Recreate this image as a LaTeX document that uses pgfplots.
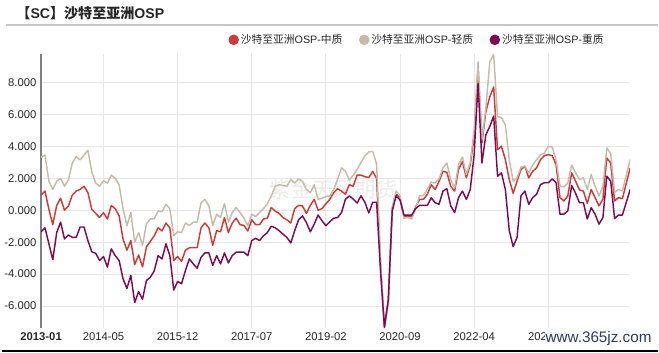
\documentclass[border=0pt]{standalone}
\usepackage{fontspec}
\setmainfont{Liberation Sans}
\newfontfamily\cjk{Noto Sans CJK SC}
\usepackage{pgfplots}
\pgfplotsset{compat=1.18}
\usepackage{pgfplotstable}
\definecolor{cred}{RGB}{206,59,55}
\definecolor{cbeige}{RGB}{200,186,168}
\definecolor{cpurple}{RGB}{125,10,85}
\definecolor{csite}{RGB}{45,60,100}
\pgfplotstableread{
i mid light heavy
0 0.95 3.33 -1.35
1 1.2 3.45 -1.1
2 0.06 1.82 -2.1
3 -0.9 1.3 -3.1
4 0.3 1.82 -1.4
5 0.75 2.0 -0.75
6 0.0 1.5 -1.8
7 0.25 1.9 -1.55
8 0.95 2.95 -1.7
9 1.2 3.35 -1.7
10 1.3 3.15 -1.05
11 1.5 3.45 -1.05
12 1.1 3.75 -1.9
13 0.05 2.4 -2.6
14 -0.2 1.7 -2.7
15 -0.45 1.5 -3.15
16 -0.15 1.85 -2.9
17 -0.55 1.7 -3.56
18 0.3 2.2 -2.42
19 0.1 2.0 -2.84
20 -0.35 1.6 -3.15
21 -1.8 0.1 -4.29
22 -2.5 -0.97 -4.9
23 -1.9 -0.14 -4.08
24 -3.4 -2.0 -5.78
25 -2.8 -1.4 -5.1
26 -3.55 -2.2 -5.57
27 -2.3 -0.85 -4.4
28 -1.95 -0.54 -4.2
29 -1.6 -0.54 -3.8
30 -1.1 -0.04 -2.84
31 -1.3 -0.1 -3.05
32 -0.8 0.37 -2.1
33 -1.1 0.1 -2.84
34 -3.15 -1.6 -5.0
35 -2.9 -1.35 -4.46
36 -3.2 -1.4 -4.6
37 -2.5 -0.8 -3.77
38 -2.35 -0.95 -3.05
39 -2.35 -0.75 -3.36
40 -2.35 -0.75 -3.63
41 -1.1 0.47 -2.95
42 -0.8 0.68 -2.67
43 -1.1 0.27 -2.67
44 -2.2 -0.95 -3.46
45 -1.28 -0.25 -2.84
46 -1.35 -0.46 -3.36
47 -0.46 0.43 -2.67
48 -1.4 -0.75 -3.3
49 -0.8 -0.14 -2.84
50 -0.5 0.17 -2.63
51 -0.9 -0.14 -2.63
52 -0.95 -0.5 -2.63
53 -1.3 -0.97 -2.84
54 -0.6 -0.25 -1.9
55 -0.9 -0.4 -1.76
56 -0.9 -0.15 -1.9
57 -0.55 0.1 -1.6
58 -0.5 0.4 -1.4
59 0.17 0.89 -1.0
60 -0.05 1.5 -1.1
61 -0.2 1.6 -1.28
62 -0.46 1.55 -1.5
63 -0.6 1.5 -1.7
64 -0.8 1.93 -2.05
65 0.1 1.7 -1.28
66 0.3 1.96 -0.6
67 0.27 1.8 -0.35
68 -0.2 1.3 -0.77
69 0.3 1.1 -1.35
70 0.68 1.6 -0.87
71 0.0 0.68 -0.3
72 0.1 0.75 -0.66
73 0.4 0.85 -0.97
74 0.68 0.89 -0.72
75 1.1 1.3 -0.5
76 1.35 1.93 -0.46
77 1.2 2.65 -0.15
78 1.0 2.44 0.68
79 1.6 1.9 0.89
80 1.5 2.2 0.7
81 2.2 2.55 0.45
82 2.2 3.0 0.9
83 2.1 3.4 0.5
84 2.05 3.65 -0.17
85 2.43 3.68 0.5
86 2.0 2.9 0.5
87 -3.4 -3.1 -3.8
88 -7.3 -7.3 -7.35
89 -5.6 -5.9 -5.6
90 0.1 0.2 -0.05
91 1.0 1.2 0.9
92 0.8 0.9 0.64
93 -0.4 -0.5 -0.3
94 -0.4 -0.45 -0.3
95 -0.4 -0.55 -0.3
96 0.2 0.1 0.1
97 0.68 0.9 0.3
98 0.68 0.93 0.3
99 1.0 1.3 0.3
100 1.6 1.76 0.78
101 1.3 1.7 0.47
102 1.8 1.97 0.37
103 2.44 2.65 1.2
104 2.38 2.96 1.35
105 1.5 1.9 0.27
106 1.2 1.4 -0.15
107 2.55 2.86 0.79
108 3.06 3.33 1.2
109 2.03 2.24 0.68
110 2.86 3.0 1.3
111 4.6 5.03 3.48
112 8.9 9.3 7.93
113 4.2 4.4 2.96
114 6.17 6.4 4.72
115 7.1 9.27 5.24
116 7.72 9.75 5.9
117 3.79 5.86 2.13
118 4.0 5.8 2.34
119 3.17 5.34 1.3
120 1.93 3.17 -1.28
121 1.06 1.82 -2.28
122 1.82 2.03 -1.7
123 2.55 2.7 0.9
124 2.75 2.75 1.2
125 2.03 2.34 0.37
126 2.44 2.83 0.79
127 2.65 3.17 1.0
128 3.17 3.48 1.6
129 3.42 3.58 1.72
130 3.48 4.0 1.72
131 3.42 3.96 1.96
132 2.86 3.17 1.72
133 0.79 1.5 -0.25
134 0.58 1.46 -0.25
135 0.89 1.7 -0.04
136 2.34 2.83 1.55
137 1.82 2.34 1.06
138 1.27 1.93 0.47
139 1.2 2.03 0.47
140 0.43 1.3 -0.55
141 1.3 2.24 0.16
142 0.79 1.5 -0.25
143 0.27 0.89 -0.87
144 0.68 1.5 -0.46
145 3.27 3.9 2.13
146 2.96 3.54 1.82
147 0.58 1.1 -0.52
148 0.79 1.3 -0.3
149 0.72 1.2 -0.3
150 1.7 2.2 0.5
151 2.65 3.17 1.3
}\osp
\begin{document}
\begin{tikzpicture}
\path (0,0) rectangle (494.25pt,265.5pt);
\draw[gray!45, line width=1.1pt] (3pt,246.75pt) -- (494.25pt,246.75pt);
\node[anchor=west, inner sep=0pt, font=\fontsize{10.6}{12}\selectfont\bfseries, text=black!85] at (10.5pt,255.75pt) {{\cjk\bfseries 【}SC{\cjk\bfseries 】沙特至亚洲}OSP};
\node[font=\cjk\fontsize{16}{18}\selectfont, text=gray!16] at (249.75pt,123pt) {紫金天风期货};
\begin{axis}[
  at={(29.25pt,18pt)}, anchor=south west,
  scale only axis, width=444pt, height=207pt,
  xmin=0, xmax=151, ymin=-7.4, ymax=9.8,
  axis x line*=bottom, axis y line*=left,
  x axis line style={draw=none},
  y axis line style={draw=black!50, line width=1.3pt},
  major tick length=0pt,
  grid=major, grid style={gray!20, line width=0.6pt},
  xtick={0,16,35,54,73,92,111,130},
  xticklabels={\textbf{2013-01},2014-05,2015-12,2017-07,2019-02,2020-09,2022-04,2023-11},
  ytick={-6,-4,-2,0,2,4,6,8},
  yticklabels={-6.000,-4.000,-2.000,0.000,2.000,4.000,6.000,8.000},
  tick label style={font=\fontsize{8.5}{10}\selectfont, text=black!85},
  legend columns=3,
  legend cell align=left,
  legend style={draw=none, fill=none, inner sep=0pt,
    at={(axis description cs:0.3176,1.0507)}, anchor=west,
    nodes={inner sep=1.5pt, font=\fontsize{8.1}{10}\selectfont, text=black!85},
    /tikz/every even column/.append style={column sep=11pt}},
  legend image code/.code={\fill[#1] (3.4pt,0pt) circle (3.4pt);},
  no markers, line join=round,
]
\addplot[cred, line width=1.1pt] table[x=i,y=mid] {\osp};
\addlegendentry{{\cjk 沙特至亚洲}OSP-{\cjk 中质}}
\addplot[cbeige, line width=1.1pt] table[x=i,y=light] {\osp};
\addlegendentry{{\cjk 沙特至亚洲}OSP-{\cjk 轻质}}
\addplot[cpurple, line width=1.1pt] table[x=i,y=heavy] {\osp};
\addlegendentry{{\cjk 沙特至亚洲}OSP-{\cjk 重质}}
\end{axis}
\node[anchor=west, inner sep=0.5pt, fill=white, fill opacity=0.85, text opacity=1, text=csite, font=\fontsize{11.5}{13}\selectfont] at (408.75pt,10.5pt) {www.365jz.com};
\draw[black, line width=1.4pt] (0,1.2pt) -- (494.25pt,1.2pt);
\end{tikzpicture}
\end{document}
